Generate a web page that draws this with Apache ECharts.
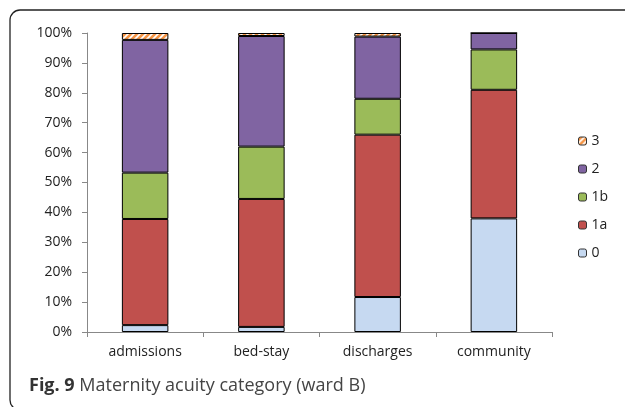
<!DOCTYPE html>
<html><head><meta charset="utf-8">
<script src="https://cdn.jsdelivr.net/npm/echarts@6/dist/echarts.min.js"></script>
<style>html,body{margin:0;padding:0;background:#fff}#c{width:625px;height:407px}</style>
</head><body><div id="c"></div>
<script>
const categories = ['admissions', 'bed-stay', 'discharges', 'community'];
const s0  = [2.3, 1.7, 11.7, 38.0];
const s1a = [35.5, 42.8, 54.3, 43.0];
const s1b = [15.5, 17.5, 12.0, 13.5];
const s2  = [44.4, 37.0, 20.8, 5.5];
const s3  = [2.3, 1.0, 1.2, 0];
const yTicks = [0, 10, 20, 30, 40, 50, 60, 70, 80, 90, 100];

function hatch() {
  const c = document.createElement('canvas');
  c.width = 6; c.height = 6;
  const g = c.getContext('2d');
  g.fillStyle = '#f79646'; g.fillRect(0, 0, 6, 6);
  g.strokeStyle = '#ffffff'; g.lineWidth = 1.6;
  g.beginPath();
  g.moveTo(-1, 7); g.lineTo(7, -1);
  g.moveTo(-4, 4); g.lineTo(4, -4);
  g.moveTo(2, 10); g.lineTo(10, 2);
  g.stroke();
  return { image: c, repeat: 'repeat' };
}

const chart = echarts.init(document.getElementById('c'));
const font = 'Open Sans';
function ser(name, data, color) {
  return {
    name, type: 'bar', stack: 'a', data, barWidth: '40%',
    itemStyle: { color, borderColor: '#000', borderWidth: 1 },
    emphasis: { disabled: true }
  };
}
chart.setOption({
  animation: false,
  textStyle: { fontFamily: font },
  title: {
    text: '{b|Fig. 9} {r|Maternity acuity category (ward B)}',
    left: 24, top: 372,
    textStyle: {
      fontWeight: 'normal',
      rich: {
        b: { fontFamily: font, fontWeight: 'bold', fontSize: 18, color: '#333' },
        r: { fontFamily: font, fontWeight: 'normal', fontSize: 18, color: '#444' }
      }
    }
  },
  graphic: [{
    type: 'rect', silent: true,
    shape: { x: 10, y: 10, width: 700, height: 400, r: 10 },
    style: { fill: 'none', stroke: '#222', lineWidth: 1.3 }
  }],
  legend: {
    orient: 'vertical', left: 573, top: 129, itemGap: 14,
    itemWidth: 8, itemHeight: 8,
    data: ['3', '2', '1b', '1a', '0'],
    textStyle: { fontFamily: font, fontSize: 14, color: '#222' },
    itemStyle: { borderColor: '#333', borderWidth: 1 }
  },
  grid: { left: 87, top: 33, right: 73, bottom: 75 },
  xAxis: {
    type: 'category', data: categories,
    axisLine: { lineStyle: { color: '#888', width: 1 } },
    axisTick: { show: true, length: 5, lineStyle: { color: '#888' } },
    axisLabel: { fontFamily: font, fontSize: 14, color: '#222', margin: 13 }
  },
  yAxis: {
    type: 'value', min: 0, max: 100, interval: 10,
    axisLine: { show: true, lineStyle: { color: '#888', width: 1 } },
    axisTick: { show: true, length: 5, lineStyle: { color: '#888' } },
    splitLine: { show: false },
    axisLabel: {
      fontFamily: font, fontSize: 14, color: '#222', margin: 15,
      formatter: v => (yTicks.indexOf(v) >= 0 ? v + '%' : '')
    }
  },
  series: [
    ser('0', s0, '#c6d9f1'),
    ser('1a', s1a, '#c0504d'),
    ser('1b', s1b, '#9bbb59'),
    ser('2', s2, '#8064a2'),
    ser('3', s3, hatch())
  ]
});
</script></body></html>
